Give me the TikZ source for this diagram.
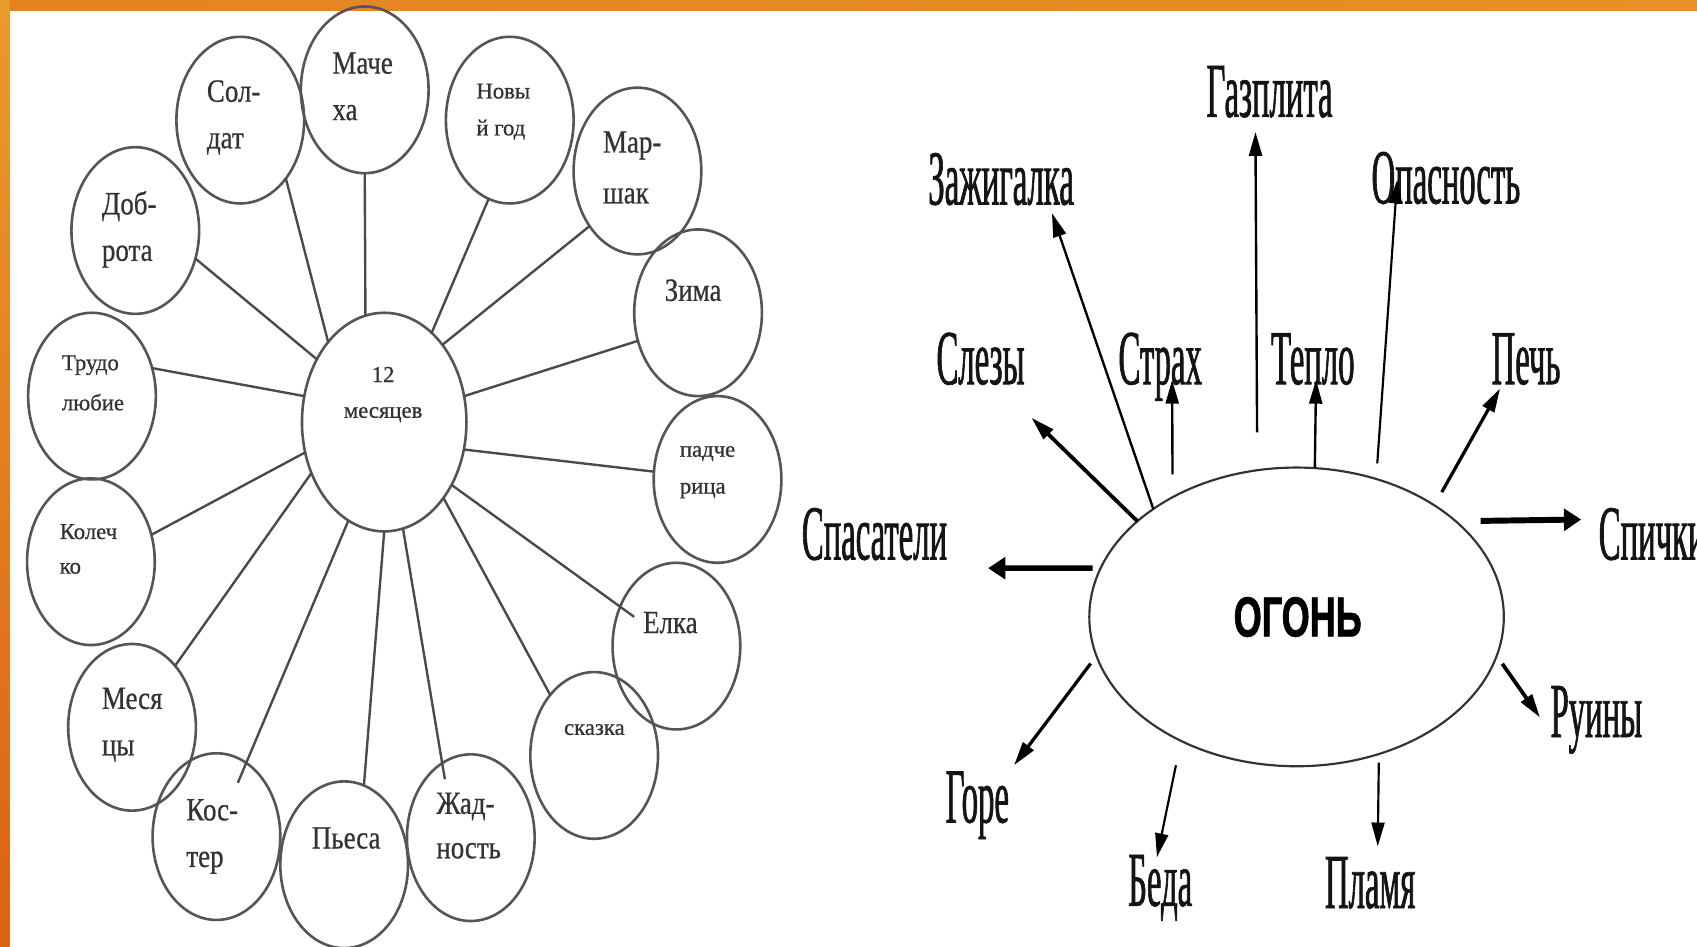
\documentclass[tikz,border=0pt]{standalone}
\usepackage{fontspec}
\setmainfont{Liberation Serif}
\newfontfamily\rfont[FakeStretch=0.42,FakeBold=0.8]{Liberation Serif}
\newfontfamily\lbfont[FakeStretch=0.83,FakeBold=0.6]{Liberation Serif}
\newfontfamily\lsfont[FakeBold=0.8]{Liberation Serif}
\newfontfamily\ffont[FakeStretch=0.64,FakeBold=1.2]{Liberation Sans}
\usetikzlibrary{shapes.geometric,arrows.meta}
\definecolor{lgray}{HTML}{555555}
\definecolor{lline}{HTML}{4A4A4A}
\definecolor{ltext}{HTML}{333333}
\definecolor{orTopL}{HTML}{E38422}
\definecolor{orTopM}{HTML}{EDA330}
\definecolor{orTopR}{HTML}{E69026}
\definecolor{orLeftT}{HTML}{EA9A2A}
\definecolor{orLeftM}{HTML}{E47A1C}
\definecolor{orLeftB}{HTML}{DC6214}
\begin{document}
\begin{tikzpicture}[x=1pt,y=-1pt,
  oval/.style={draw=lgray, line width=2.4pt, ellipse, minimum width=118pt, minimum height=154pt, inner sep=0pt, outer sep=0pt},
  bigoval/.style={draw=lgray, line width=2.4pt, ellipse, minimum width=152pt, minimum height=202pt, inner sep=0pt, outer sep=0pt},
  fireoval/.style={draw=black!80, line width=2pt, ellipse, minimum width=383pt, minimum height=276pt, inner sep=0pt, outer sep=0pt},
  link/.style={draw=lline, line width=2.2pt},
  bl/.style={font=\lbfont\fontsize{30}{43}\selectfont, align=left, inner sep=0pt, anchor=base west, text=ltext},
  sl/.style={font=\lsfont\fontsize{21}{34}\selectfont, align=left, inner sep=0pt, anchor=base west, text=ltext},
  rl/.style={font=\rfont\fontsize{72}{80}\selectfont, inner sep=0pt, anchor=base, text=black!92},
  arr/.style={draw=black, line width=2.2pt, -{Triangle[length=22pt,width=12pt]}},
  thickarr/.style={draw=black, line width=5.5pt, -{Triangle[length=16pt,width=20pt]}}
]
\useasboundingbox (0,0) rectangle (1568,875);
\fill[white] (0,0) rectangle (1568,875);
\shade[left color=orTopL, middle color=orTopM, right color=orTopR] (0,0) rectangle (1568,10);
\shade[top color=orLeftT, middle color=orLeftM, bottom color=orLeftB] (0,0) rectangle (9,875);

% ---------- left diagram ----------
\node[bigoval] (c12) at (355,390) {};
\node[oval] (soldat) at (222,111) {};
\node[oval] (macheha) at (337,83) {};
\node[oval] (novy) at (471,111) {};
\node[oval] (marshak) at (589,158) {};
\node[oval] (zima) at (645,289) {};
\node[oval] (padch) at (663,443) {};
\node[oval] (elka) at (625,597) {};
\node[oval] (skazka) at (549,698) {};
\node[oval] (zhad) at (435,774) {};
\node[oval] (pyesa) at (318,799) {};
\node[oval] (koster) at (200,773) {};
\node[oval] (mesyacy) at (122,672) {};
\node[oval] (kolechko) at (84,519) {};
\node[oval] (trudo) at (85,366) {};
\node[oval] (dobro) at (125,213) {};

\draw[link] (soldat.-52.6) -- (c12.125.3);
\draw[link] (macheha.-90) -- (c12.100.3);
\draw[link] (novy.-105.1) -- (c12.62.6);
\draw[link] (marshak.-131.6) -- (c12.53.4);
\draw[link] (zima.-155) -- (c12.18.2);
\draw[link] (padch.173.8) -- (c12.-19.6);
\draw[link, shorten >=-16pt] (c12.-43.2) -- (elka.145);
\draw[link] (c12.-52.4) -- (skazka.126.4);
\draw[link, shorten >=-15pt] (c12.-80.5) -- (zhad.111);
\draw[link] (c12.-90) -- (pyesa.76.3);
\draw[link, shorten >=-20pt] (c12.-110.6) -- (koster.68.8);
\draw[link] (c12.-145.5) -- (mesyacy.55.3);
\draw[link] (c12.-159.8) -- (kolechko.24.5);
\draw[link] (trudo.25.7) -- (c12.162);
\draw[link] (dobro.-25.7) -- (c12.137.9);

% multi-line labels: the base anchor is the baseline of the last line
\node[sl, font=\lsfont\fontsize{21}{33}\selectfont, align=center, anchor=base] (t12) at (354,386) {12\\месяцев};
\node[bl] (tsoldat) at (191,137) {Сол-\\дат};
\node[bl] (tmacheha) at (307,111) {Маче\\ха};
\node[sl] (tnovy) at (440,125) {Новы\\й год};
\node[bl, font=\lbfont\fontsize{30}{47}\selectfont] (tmarshak) at (557,188) {Мар-\\шак};
\node[bl] (tzima) at (614,278) {Зима};
\node[sl] (tpadch) at (628,456) {падче\\рица};
\node[bl] (telka) at (594,585) {Елка};
\node[sl] (tskazka) at (521,679) {сказка};
\node[bl, font=\lbfont\fontsize{30}{41}\selectfont] (tzhad) at (403,793) {Жад-\\ность};
\node[bl] (tpyesa) at (288,784) {Пьеса};
\node[bl] (tkoster) at (172,801) {Кос-\\тер};
\node[bl] (tmesyacy) at (94,698) {Меся\\цы};
\node[sl, font=\lsfont\fontsize{21}{32}\selectfont] (tkolechko) at (55,530) {Колеч\\ко};
\node[sl, font=\lsfont\fontsize{21}{37}\selectfont] (ttrudo) at (57,379) {Трудо\\любие};
\node[bl] (tdobro) at (94,241) {Доб-\\рота};

% ---------- right diagram ----------
\node[fireoval] (fire) at (1198,570) {};
\node[font=\ffont\bfseries\fontsize{52}{60}\selectfont, inner sep=0pt, anchor=base] (tfire) at (1199,588) {ОГОНЬ};

\node[rl] (lgaz) at (1173,108) {Газплита};
\node[rl] (lzazh) at (925,189) {Зажигалка};
\node[rl] (lopas) at (1336,188) {Опасность};
\node[rl] (lslez) at (906,355) {Слезы};
\node[rl] (lstrah) at (1072,355) {Страх};
\node[rl] (lteplo) at (1213,355) {Тепло};
\node[rl] (lpech) at (1410,355) {Печь};
\node[rl] (lspas) at (808,517) {Спасатели};
\node[rl, anchor=base west] (lspich) at (1477,517) {Спички};
\node[rl] (lruin) at (1475,681) {Руины};
\node[rl] (lgore) at (903,760) {Горе};
\node[rl] (lbeda) at (1072,837) {Беда};
\node[rl] (lplam) at (1266,839) {Пламя};

\coordinate (tgaz) at (1160,122);
\coordinate (tzazh) at (972,197);
\coordinate (tslez) at (953,386);
\coordinate (tstrah) at (1083,351);
\coordinate (tteplo) at (1216,351);
\coordinate (topas) at (1291,166);
\coordinate (tpech) at (1386,359);
\coordinate (tspas) at (913,525);
\coordinate (tspich) at (1461,480);
\coordinate (truin) at (1423,663);
\coordinate (tgore) at (937,707);
\coordinate (tbeda) at (1069,792);
\coordinate (tplam) at (1273,782);

\draw[arr, shorten <=35pt] (fire.105.9) -- (tgaz);
\draw[arr] (fire.143.2) -- (tzazh);
\draw[arr, line width=3.5pt] (fire.149.4) -- (tslez);
\draw[arr, shorten <=21pt] (fire.136.4) -- (tstrah);
\draw[arr] (fire.83.2) -- (tteplo);
\draw[arr, line width=2pt, shorten <=14.5pt] (fire.60) -- (topas);
\draw[arr, line width=3pt, shorten <=14pt] (fire.39.6) -- (tpech);
\draw[thickarr, line width=5pt, shorten <=7.5pt] (fire.166) -- (tspas);
\draw[thickarr, shorten <=23pt] (fire.31.8) -- (tspich);
\draw[arr, line width=3.5pt, shorten <=9pt] (fire.-11.8) -- (truin);
\draw[arr, line width=3pt, shorten <=9pt] (fire.191.9) -- (tgore);
\draw[arr, line width=2pt, shorten <=23pt] (fire.-133.4) -- (tbeda);
\draw[arr, line width=2pt, shorten <=8pt] (fire.-59.6) -- (tplam);
\end{tikzpicture}
\end{document}
